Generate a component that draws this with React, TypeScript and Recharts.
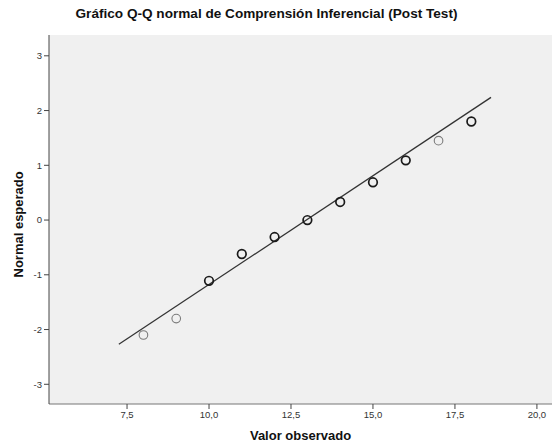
import { CartesianGrid, Scatter, ScatterChart, XAxis, YAxis } from "recharts";

// observed values and their expected normal scores
const observed = [8, 9, 10, 11, 12, 13, 14, 15, 16, 17, 18];
const expected = [-2.1, -1.8, -1.11, -0.62, -0.31, 0, 0.33, 0.69, 1.09, 1.45, 1.8];
// points drawn darker where several cases overlap
const overlap = [false, false, true, true, true, true, true, true, true, false, true];

const fitX = [7.25, 18.6];
const fitY = [-2.27, 2.24];

const xTicks = [7.5, 10, 12.5, 15, 17.5, 20];
const yTicks = [-3, -2, -1, 0, 1, 2, 3];

const points = observed.map((x, i) => ({ x, y: expected[i], dark: overlap[i] }));
const fitLine = fitX.map((x, i) => ({ x, y: fitY[i] }));

const fmt = (v: number) => v.toFixed(1).replace(".", ",");

const Ring = (props: any) => {
  const { cx, cy, payload } = props;
  return (
    <circle
      cx={cx}
      cy={cy}
      r={4.3}
      fill="none"
      stroke={payload.dark ? "#1a1a1a" : "#7a7a7a"}
      strokeWidth={payload.dark ? 1.7 : 1.1}
    />
  );
};

export default function App() {
  const font = "'Liberation Sans', Arial, sans-serif";
  return (
    <div style={{ position: "absolute", left: 0, top: 0, width: 552, height: 444, background: "#fff", fontFamily: font }}>
      <div
        style={{
          position: "absolute",
          top: 6,
          left: 0,
          width: 533,
          textAlign: "center",
          fontSize: 13.6,
          fontWeight: "bold",
          color: "#111",
        }}
      >
        Gráfico Q-Q normal de Comprensión Inferencial (Post Test)
      </div>
      <ScatterChart width={552} height={444} margin={{ top: 35, right: 0, bottom: 0, left: 0 }}>
        <CartesianGrid horizontal={false} vertical={false} fill="#f0f0f0" />
        <XAxis
          xAxisId="top"
          orientation="top"
          type="number"
          dataKey="x"
          domain={[5.12, 20.46]}
          height={0}
          tick={false}
          tickLine={false}
          axisLine={{ stroke: "#666" }}
        />
        <XAxis
          type="number"
          dataKey="x"
          domain={[5.12, 20.46]}
          ticks={xTicks}
          tickFormatter={fmt}
          height={40}
          tick={{ fontSize: 9.5, fill: "#333", fontFamily: font }}
          tickLine={{ stroke: "#444" }}
          tickSize={5}
          axisLine={{ stroke: "#777" }}
          label={{ value: "Valor observado", position: "insideBottom", offset: 0, dy: -4, fontSize: 13, fontWeight: "bold", fill: "#111", fontFamily: font }}
        />
        <YAxis
          type="number"
          dataKey="y"
          domain={[-3.36, 3.38]}
          ticks={yTicks}
          width={49}
          tick={{ fontSize: 9.5, fill: "#333", fontFamily: font }}
          tickLine={{ stroke: "#444" }}
          tickSize={5}
          axisLine={{ stroke: "#444" }}
          label={{ value: "Normal esperado", angle: -90, position: "insideLeft", offset: 18, dy: 58, fontSize: 13, fontWeight: "bold", fill: "#111", fontFamily: font }}
        />
        <Scatter
          data={fitLine}
          line={{ stroke: "#333", strokeWidth: 1.3 }}
          shape={() => <g />}
          isAnimationActive={false}
        />
        <Scatter data={points} shape={Ring} isAnimationActive={false} />
      </ScatterChart>
    </div>
  );
}
